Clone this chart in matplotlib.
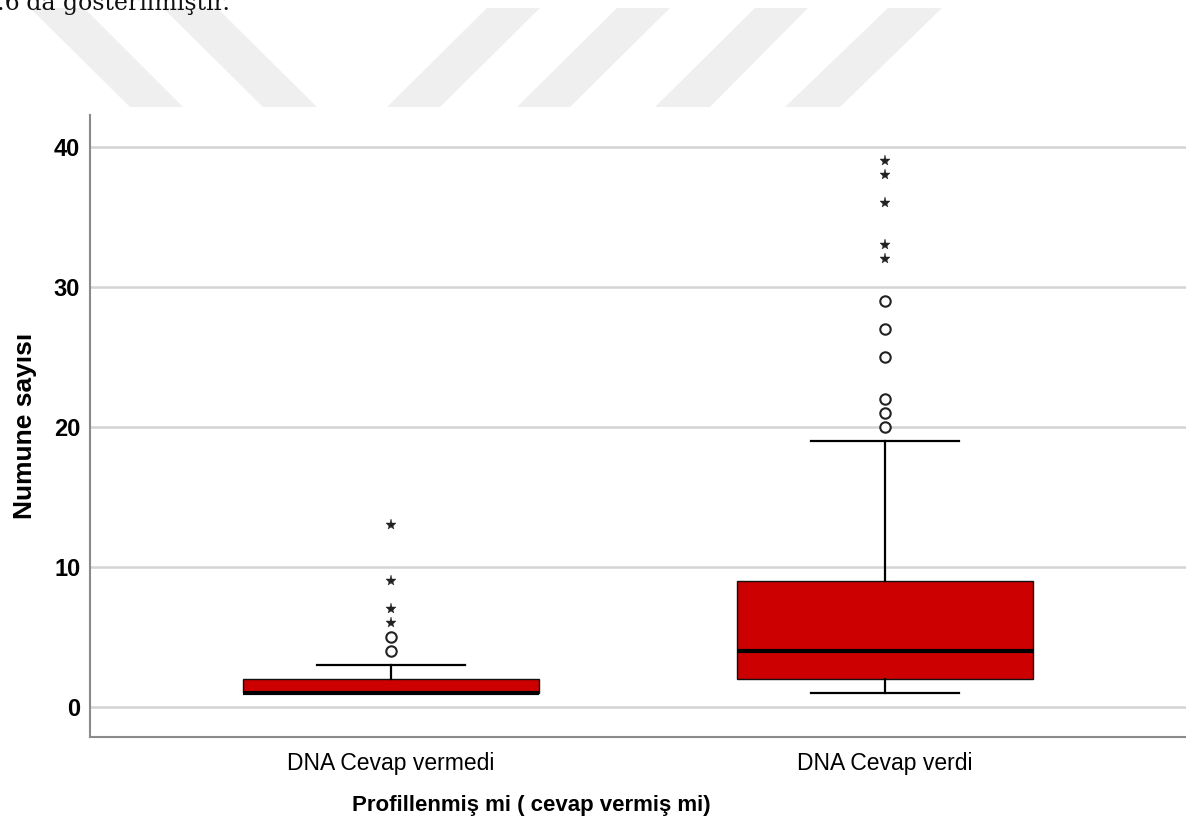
import matplotlib
matplotlib.use("Agg")
import matplotlib.pyplot as plt
from matplotlib.patches import Polygon

# --- data ---------------------------------------------------------------
groups = ["DNA Cevap vermedi", "DNA Cevap verdi"]
whisker_low = [1, 1]
q1 = [1, 2]
median = [1, 4]
q3 = [2, 9]
whisker_high = [3, 19]
outliers = [[4, 5], [20, 21, 22, 25, 27, 29]]
extremes = [[6, 7, 9, 13], [32, 33, 36, 38, 39]]
y_ticks = [0, 10, 20, 30, 40]

W, H = 1186, 832
fig = plt.figure(figsize=(W / 100, H / 100), dpi=100)
fig.patch.set_facecolor("white")

def px(x, y):
    return (x / W, 1 - y / H)

# light diagonal stripes at the top of the page
stripes = [
    [(30, 8), (84, 8), (183, 107), (130, 107)],
    [(163, 8), (217, 8), (317, 107), (263, 107)],
    [(487, 8), (540, 8), (440, 107), (387, 107)],
    [(617, 8), (670, 8), (570, 107), (517, 107)],
    [(755, 8), (808, 8), (710, 107), (655, 107)],
    [(888, 8), (942, 8), (840, 107), (785, 107)],
]
for s in stripes:
    fig.patches.append(Polygon([px(*p) for p in s], closed=True,
                               transform=fig.transFigure, facecolor="#efefef",
                               edgecolor="none", zorder=0))

# tail of the preceding sentence in the document
fig.text(-3 / W, 1 - 10 / H, ".6'da gösterilmiştir.", family="DejaVu Serif",
         fontsize=17, color="#111111", ha="left", va="baseline")

ax = fig.add_axes([90 / W, 1 - 737 / H, 1 - 90 / W, (737 - 115) / H])
ax.set_facecolor("none")

stats = []
for i, g in enumerate(groups):
    stats.append(dict(label=g, whislo=whisker_low[i], q1=q1[i], med=median[i],
                      q3=q3[i], whishi=whisker_high[i], fliers=[]))

positions = list(range(len(groups)))
ax.bxp(stats, positions=positions, widths=0.6, showfliers=False,
       patch_artist=True,
       boxprops=dict(facecolor="#cc0000", edgecolor="#111111", linewidth=1.0),
       medianprops=dict(color="black", linewidth=3.0, solid_capstyle="butt"),
       whiskerprops=dict(color="black", linewidth=1.6),
       capprops=dict(color="black", linewidth=1.6),
       capwidths=0.3, zorder=3)

for pos, vals in zip(positions, outliers):
    ax.plot([pos] * len(vals), vals, linestyle="none", marker="o",
            markersize=7.5, markerfacecolor="white", markeredgecolor="#222222",
            markeredgewidth=1.5, zorder=4)
for pos, vals in zip(positions, extremes):
    ax.plot([pos] * len(vals), vals, linestyle="none", marker="*",
            markersize=8, color="#222222", markeredgewidth=0.3, zorder=4)

ax.set_xlim(-0.609, 1.609)
ax.set_ylim(-2.143, 42.29)
ax.set_yticks(y_ticks)
ax.set_yticklabels([str(t) for t in y_ticks], fontsize=17, fontweight="bold",
                   family="Liberation Sans")
ax.set_xticks(positions)
ax.set_xticklabels(groups, fontsize=16.5, family="Liberation Sans")
ax.tick_params(axis="both", length=0)
ax.tick_params(axis="y", pad=7)
ax.tick_params(axis="x", pad=11)

ax.yaxis.grid(True, color="#d4d4d4", linewidth=1.8, zorder=0)
ax.set_axisbelow(True)
for side in ("top", "right"):
    ax.spines[side].set_visible(False)
for side in ("left", "bottom"):
    ax.spines[side].set_color("#8a8a8a")
    ax.spines[side].set_linewidth(1.5)

ax.set_ylabel("Numune sayısı", fontsize=19, fontweight="bold",
              family="Liberation Sans", labelpad=12)
fig.text(531 / W, 1 - 806 / H, "Profillenmiş mi ( cevap vermiş mi)",
         fontsize=16, fontweight="bold", family="Liberation Sans",
         ha="center", va="center")

fig.savefig("out.png", dpi=100)
